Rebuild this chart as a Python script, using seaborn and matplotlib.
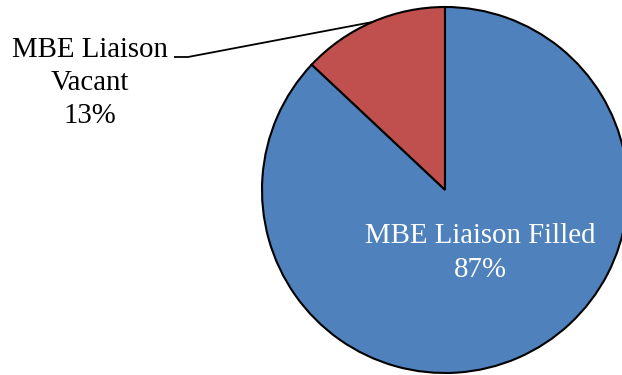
import numpy as np
import matplotlib
matplotlib.use("Agg")
import matplotlib.pyplot as plt
import seaborn as sns

# Liaison position status (percent of positions)
categories = ["MBE Liaison Filled", "MBE Liaison Vacant"]
values = [87, 13]
colors = ["#4F81BD", "#C0504D"]

sns.set_theme(style="white")
plt.rcParams["font.family"] = ["Liberation Serif", "DejaVu Serif"]

W, H = 622, 375
fig = plt.figure(figsize=(W / 100, H / 100), dpi=100)

# Pie axes: centre (445, 190) px, radius 183 px
cx, cy, r = 445, 190, 183
ax = fig.add_axes([(cx - r) / W, (H - (cy + r)) / H, 2 * r / W, 2 * r / H])

# Vacant slice starts at 12 o'clock and runs counter-clockwise
plot_vals = [values[1], values[0]]
plot_cols = [colors[1], colors[0]]
ax.pie(plot_vals, colors=plot_cols, startangle=90, counterclock=True,
       radius=1, center=(0, 0), frame=False,
       wedgeprops=dict(edgecolor="black", linewidth=1.5))
ax.set_xlim(-1, 1)
ax.set_ylim(-1, 1)
ax.set_aspect("equal")
ax.axis("off")


def px(x, y):
    """pixel position -> data coords of the pie axes"""
    return (x - cx) / r, (cy - y) / r


total = sum(values)

# Filled label inside the slice
fx, fy = px(480, 253)
ax.text(fx, fy, f"{categories[0]}\n{values[0] / total:.0%}", color="white",
        fontsize=20.8, ha="center", va="center", linespacing=1.42, clip_on=False)

# Vacant label outside with leader line to the slice midpoint on the arc
vx, vy = px(90, 83)
ax.text(vx, vy, "MBE Liaison\nVacant\n" + f"{values[1] / total:.0%}", color="black",
        fontsize=20.8, ha="center", va="center", linespacing=1.33, clip_on=False)
mid = np.deg2rad(90 + values[1] / total * 360 / 2)
arc_pt = (np.cos(mid), np.sin(mid))
s0 = px(174, 57)
s1 = px(188, 57)
ax.plot([s0[0], s1[0], arc_pt[0]], [s0[1], s1[1], arc_pt[1]],
        color="black", linewidth=1.3, clip_on=False, solid_capstyle="butt")

fig.savefig("out.png", dpi=100, facecolor="white")
